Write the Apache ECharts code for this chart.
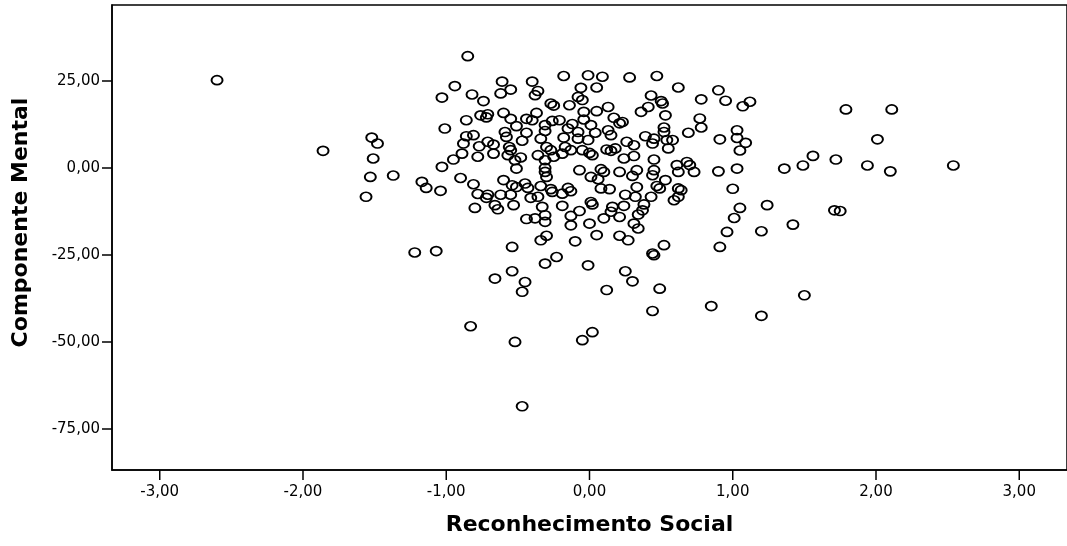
<!DOCTYPE html>
<html>
<head>
<meta charset="utf-8">
<script src="https://cdn.jsdelivr.net/npm/echarts@6/dist/echarts.min.js"></script>
<style>
  html, body { margin: 0; padding: 0; background: #fff; }
  #chart { width: 1067px; height: 546px; }
</style>
</head>
<body>
<div id="chart"></div>
<script>
// Reconhecimento Social (x) x Componente Mental (y), pares [x, y]
const pontosEsquerda = [
    [-2.60, 25.2], [-1.86, 4.9], [-1.52, 8.7], [-1.48, 7.0], [-1.51, 2.7],
    [-1.53, -2.6], [-1.37, -2.2], [-1.56, -8.3]
]

const pontosSupEsq = [
    [-0.85, 32.1], [-0.94, 23.5], [-1.03, 20.2], [-0.61, 24.8], [-0.55, 22.5],
    [-0.62, 21.4], [-0.40, 24.8], [-0.36, 22.1], [-0.38, 20.9], [-0.82, 21.1],
    [-0.74, 19.2], [-0.27, 18.5], [-0.25, 17.9], [-0.60, 15.8], [-0.76, 15.1],
    [-0.71, 15.4], [-0.72, 14.5], [-0.86, 13.7], [-0.55, 14.1], [-0.44, 14.1],
    [-0.40, 13.7], [-0.37, 15.8], [-0.51, 12.0], [-0.31, 12.3], [-0.26, 13.5],
    [-1.01, 11.3], [-0.59, 10.3], [-0.58, 8.9], [-0.44, 10.1], [-0.31, 10.6],
    [-0.86, 9.1], [-0.81, 9.4], [-0.88, 7.0], [-0.71, 7.5], [-0.67, 6.7],
    [-0.77, 6.2], [-0.47, 7.8], [-0.34, 8.4], [-0.30, 6.0], [-0.27, 5.1],
    [-0.56, 6.0], [-0.55, 5.1], [-0.57, 3.65], [-0.89, 4.1], [-0.95, 2.4],
    [-0.78, 3.2], [-0.67, 4.1], [-0.48, 3.0], [-0.36, 3.65], [-0.31, 2.2],
    [-1.03, 0.3], [-0.52, 2.2], [-0.25, 3.2]
]

const pontosSupDir = [
    [-0.18, 26.4], [-0.01, 26.6], [0.09, 26.2], [0.28, 26.0], [0.47, 26.4],
    [0.62, 23.1], [-0.06, 23.0], [0.05, 23.1], [-0.08, 20.4], [-0.05, 19.5],
    [0.78, 19.7], [0.43, 20.8], [0.50, 19.2], [0.51, 18.5], [0.41, 17.5],
    [0.36, 16.1], [-0.14, 18.0], [0.13, 17.5], [0.05, 16.3], [-0.04, 16.1],
    [0.53, 15.1], [0.17, 14.4], [0.23, 13.2], [0.21, 12.8], [0.77, 14.2],
    [0.78, 11.6], [0.52, 11.6], [0.52, 10.3], [0.69, 10.1], [-0.12, 12.6],
    [-0.21, 13.7], [0.01, 12.3], [-0.04, 13.9], [-0.15, 11.3], [-0.08, 10.3],
    [0.04, 10.1], [0.13, 10.8], [0.15, 9.4], [-0.18, 8.7], [-0.08, 8.4],
    [-0.01, 8.0], [0.39, 9.1], [0.45, 8.4], [0.44, 7.0], [0.54, 8.0],
    [0.58, 8.0], [0.26, 7.5], [0.31, 6.5], [0.18, 5.6], [0.12, 5.3],
    [0.15, 4.9], [0.55, 5.6], [-0.17, 6.0], [-0.13, 5.1], [-0.05, 5.1],
    [0.00, 4.3], [0.02, 3.65], [-0.19, 4.1], [0.24, 2.7], [0.31, 3.4],
    [0.45, 2.4], [0.61, 0.8], [0.68, 1.7], [0.70, 0.8]
]

const pontosInfEsq = [
    [-1.17, -4.0], [-1.14, -5.75], [-1.04, -6.6], [-0.90, -2.9], [-0.81, -4.7],
    [-0.78, -7.5], [-0.71, -7.7], [-0.72, -8.6], [-0.80, -11.5], [-0.66, -10.7],
    [-0.64, -11.9], [-0.60, -3.5], [-0.54, -5.0], [-0.51, -5.5], [-0.45, -4.5],
    [-0.43, -5.75], [-0.55, -7.7], [-0.62, -7.7], [-0.53, -10.7], [-0.41, -8.6],
    [-0.36, -8.3], [-0.34, -5.2], [-0.27, -6.1], [-0.26, -6.9], [-0.31, -1.15],
    [-0.30, -2.6], [-0.33, -11.2], [-0.44, -14.7], [-0.38, -14.5], [-0.31, -13.6],
    [-0.31, -15.5], [-0.30, -19.5], [-0.34, -20.8], [-0.54, -22.7], [-1.22, -24.3],
    [-1.07, -23.9], [-0.31, -27.5], [-0.23, -25.6], [-0.54, -29.7], [-0.66, -31.8],
    [-0.45, -32.8], [-0.47, -35.6], [-0.51, -0.2], [-0.31, 0.0]
]

const pontosInfDir = [
    [-0.07, -0.66], [0.08, -0.37], [0.21, -1.15], [0.33, -0.66], [0.45, -0.66],
    [0.73, -1.15], [0.01, -2.6], [0.06, -3.25], [0.10, -1.15], [0.30, -2.3],
    [0.44, -2.1], [0.53, -3.5], [0.47, -5.2], [0.49, -5.9], [0.33, -5.5],
    [0.08, -5.9], [0.14, -6.1], [-0.15, -5.75], [-0.13, -6.7], [-0.19, -7.4],
    [0.62, -5.9], [0.64, -6.4], [0.59, -9.3], [0.62, -8.3], [0.25, -7.7],
    [0.32, -8.3], [0.43, -8.3], [0.38, -10.5], [0.37, -12.2], [0.34, -13.4],
    [0.24, -10.9], [0.16, -11.2], [0.15, -12.6], [0.21, -14.1], [0.10, -14.5],
    [0.01, -9.8], [0.02, -10.5], [-0.07, -12.4], [-0.19, -10.9], [-0.13, -13.8],
    [-0.13, -16.5], [0.00, -16.0], [0.05, -19.3], [-0.10, -21.1], [0.31, -16.0],
    [0.34, -17.4], [0.21, -19.5], [0.27, -20.8], [0.52, -22.2], [0.44, -24.6],
    [0.45, -25.1], [-0.01, -28.0], [0.25, -29.7], [0.30, -32.6], [0.12, -35.1],
    [0.49, -34.7], [0.62, -1.15]
]

const pontosDireita = [
    [0.90, 22.3], [0.95, 19.3], [1.07, 17.7], [1.12, 19.0], [1.79, 16.8],
    [2.11, 16.8], [1.03, 10.8], [0.91, 8.2], [1.03, 8.6], [1.09, 7.2],
    [1.05, 5.0], [2.01, 8.2], [1.56, 3.45], [1.49, 0.7], [1.36, -0.2],
    [1.72, 2.4], [1.94, 0.7], [2.10, -1.0], [2.54, 0.7], [0.90, -1.0],
    [1.03, -0.2], [1.00, -6.0], [1.05, -11.5], [1.24, -10.7], [1.01, -14.4],
    [0.96, -18.4], [1.20, -18.2], [0.91, -22.7], [1.42, -16.3], [1.71, -12.2],
    [1.75, -12.4], [1.50, -36.6], [1.20, -42.5], [0.85, -39.7]
]

const pontosBaixo = [
    [0.44, -41.1], [-0.83, -45.5], [-0.52, -50.0], [-0.05, -49.5], [0.02, -47.2],
    [-0.47, -68.5]
]

const ticksX = [-3, -2, -1, 0, 1, 2, 3]
const ticksY = [-75, -50, -25, 0, 25]

const pontos = [].concat(pontosEsquerda, pontosSupEsq, pontosSupDir,
    pontosInfEsq, pontosInfDir, pontosDireita, pontosBaixo)

const fmt = v => v.toFixed(2).replace('.', ',')

const chart = echarts.init(document.getElementById('chart'))

chart.setOption({
    animation: false,
    backgroundColor: '#fff',
    grid: [
        {
            left: 112, top: 5, width: 960, height: 465,
            show: true, borderColor: '#000', borderWidth: 1.5
        },
        // faixa fina logo abaixo do eixo x, onde ficam os tracos
        { left: 112, top: 470, width: 960, height: 10, show: false }
    ],
    xAxis: [
        {
            type: 'value',
            position: 'bottom',
            min: -3.3333, max: 3.3333,
            name: 'Reconhecimento Social',
            nameLocation: 'middle',
            nameGap: 44,
            nameTextStyle: { fontFamily: 'DejaVu Sans', fontWeight: 'bold', fontSize: 22, color: '#000' },
            splitLine: { show: false },
            axisLine: { show: true, onZero: false, lineStyle: { color: '#000', width: 1.5 } },
            axisTick: { show: false },
            axisLabel: {
                customValues: ticksX, margin: 15,
                fontFamily: 'DejaVu Sans', fontSize: 15, color: '#000',
                formatter: fmt
            }
        },
        {
            type: 'value',
            gridIndex: 1,
            min: -3.3333, max: 3.3333,
            show: false
        }
    ],
    yAxis: [
        {
            type: 'value',
            position: 'left',
            min: -86.8, max: 46.8,
            name: 'Componente Mental',
            nameLocation: 'middle',
            nameGap: 80,
            nameTextStyle: {
                fontFamily: 'DejaVu Sans', fontWeight: 'bold', fontSize: 22, color: '#000',
                padding: [0, 0, 0, 30]
            },
            splitLine: { show: false },
            axisLine: { show: true, onZero: false, lineStyle: { color: '#000', width: 1.5 } },
            axisTick: { show: true, inside: false, length: 10, lineStyle: { color: '#000', width: 1.5 }, customValues: ticksY },
            axisLabel: {
                customValues: ticksY, margin: 12,
                fontFamily: 'DejaVu Sans', fontSize: 15, color: '#000',
                formatter: fmt
            }
        },
        { type: 'value', gridIndex: 1, min: 0, max: 1, show: false }
    ],
    series: [
        {
            type: 'scatter',
            data: pontos,
            symbol: 'circle',
            symbolSize: [11, 9],
            silent: true,
            itemStyle: { color: 'rgba(0,0,0,0)', borderColor: '#000', borderWidth: 1.8, opacity: 1 }
        },
        {
            // tracos do eixo x, posicionados pela escala do eixo auxiliar
            type: 'custom',
            xAxisIndex: 1,
            yAxisIndex: 1,
            silent: true,
            clip: false,
            z: 10,
            data: ticksX.map(v => [v, 0]),
            encode: { x: 0, y: 1 },
            renderItem: (params, api) => {
                const a = api.coord([api.value(0), 1])
                const b = api.coord([api.value(0), 0])
                return {
                    type: 'line',
                    shape: { x1: a[0], y1: a[1], x2: b[0], y2: b[1] },
                    style: { stroke: '#000', lineWidth: 1.5 }
                }
            }
        }
    ]
})
</script>
</body>
</html>
